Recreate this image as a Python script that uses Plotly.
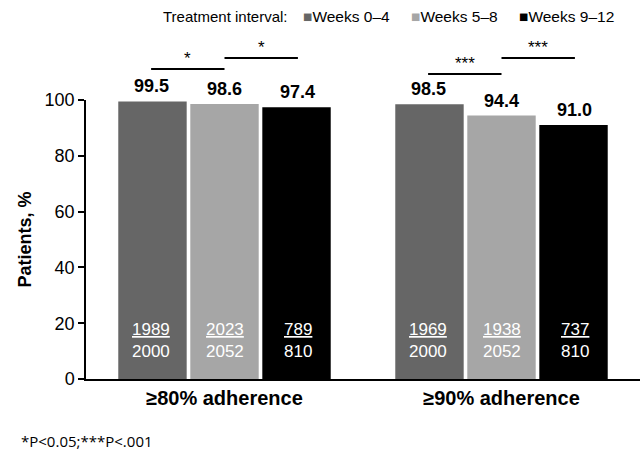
import plotly.graph_objects as go

categories = ["≥80% adherence", "≥90% adherence"]
series_names = ["Weeks 0–4", "Weeks 5–8", "Weeks 9–12"]
series_colors = ["#666666", "#a6a6a6", "#000000"]
values = {
    "Weeks 0–4": [99.5, 98.5],
    "Weeks 5–8": [98.6, 94.4],
    "Weeks 9–12": [97.4, 91.0],
}
numerators = {
    "Weeks 0–4": [1989, 1969],
    "Weeks 5–8": [2023, 1938],
    "Weeks 9–12": [789, 737],
}
denominators = {
    "Weeks 0–4": [2000, 2000],
    "Weeks 5–8": [2052, 2052],
    "Weeks 9–12": [810, 810],
}
# significance comparisons: (category index, bar i, bar j, label)
comparisons = [(0, 0, 1, "*"), (0, 1, 2, "*"), (1, 0, 1, "***"), (1, 1, 2, "***")]
y_ticks = [0, 20, 40, 60, 80, 100]

FONT = "Liberation Sans, Arial, sans-serif"
W, H = 643, 455
l, r, t, b = 86, 3, 100, 76
pw, ph = W - l - r, H - t - b
def px(xp):
    return (xp - l) / pw
def py(yp):
    return (H - b - yp) / ph

fig = go.Figure()
for name, col in zip(series_names, series_colors):
    fig.add_trace(go.Bar(
        x=[0, 1], y=values[name], name=name, marker_color=col,
        marker_line_width=0, showlegend=False,
    ))

bar_offset = 0.265
offsets = [-bar_offset, 0.0, bar_offset]

ann = []
for k, name in enumerate(series_names):
    for ci in range(len(categories)):
        x = ci + offsets[k]
        v = values[name][ci]
        ann.append(dict(x=x, y=v, xref="x", yref="y", text=f"<b>{v:.1f}</b>",
                        showarrow=False, yanchor="bottom", yshift=3,
                        font=dict(size=18, color="black", family=FONT)))
        ann.append(dict(x=x, y=17.6, xref="x", yref="y",
                        text=f"<u>{numerators[name][ci]}</u>", showarrow=False,
                        font=dict(size=17, color="white", family=FONT)))
        ann.append(dict(x=x, y=9.7, xref="x", yref="y",
                        text=f"{denominators[name][ci]}", showarrow=False,
                        font=dict(size=17, color="white", family=FONT)))

shapes = []
line_px = [69, 58, 74, 58]
for (ci, i, j, lab), lp in zip(comparisons, line_px):
    x0 = ci + offsets[i]
    x1 = ci + offsets[j]
    shapes.append(dict(type="line", xref="x", yref="paper", x0=x0, x1=x1, y0=py(lp), y1=py(lp),
                       line=dict(color="black", width=2)))
    ann.append(dict(x=(x0 + x1) / 2, y=py(lp), xref="x", yref="paper", text=lab,
                    showarrow=False, yanchor="bottom", yshift=-1,
                    font=dict(size=17, color="black", family=FONT)))

ann.append(dict(x=px(161), y=py(17), xref="paper", yref="paper", text="Treatment interval:",
                showarrow=False, xanchor="left", yanchor="middle",
                font=dict(size=15, color="black", family=FONT)))
leg_x = [301, 409, 517]
for name, col, lx in zip(series_names, series_colors, leg_x):
    ann.append(dict(x=px(lx), y=py(17), xref="paper", yref="paper",
                    text=f"<span style='color:{col}'>■</span>{name}", showarrow=False,
                    xanchor="left", yanchor="middle",
                    font=dict(size=15.5, color="black", family=FONT)))
ann.append(dict(x=px(19), y=py(441), xref="paper", yref="paper",
                text="*P&lt;0.05;***P&lt;.001", showarrow=False, xanchor="left",
                yanchor="middle", font=dict(size=15, color="black", family="Open Sans, sans-serif")))

fig.update_layout(
    width=W, height=H,
    margin=dict(l=l, r=r, t=t, b=b, autoexpand=False),
    paper_bgcolor="white", plot_bgcolor="white",
    bargap=0.22, bargroupgap=0.05, barmode="group",
    shapes=shapes, annotations=ann,
    xaxis=dict(range=[-0.5, 1.5], tickvals=[0, 1], ticktext=[f"<b>{c}</b>" for c in categories],
               showline=True, linecolor="black", linewidth=1.5, ticks="",
               tickfont=dict(size=20, color="black", family=FONT), showgrid=False, zeroline=False),
    yaxis=dict(range=[0, 100], tickvals=y_ticks, showline=True, linecolor="black", linewidth=1.5,
               ticks="outside", ticklen=6, tickwidth=1.5, tickcolor="black",
               tickfont=dict(size=18, color="black", family=FONT), showgrid=False, zeroline=False,
               title=dict(text="<b>Patients, %</b>", font=dict(size=18, color="black", family=FONT),
                          standoff=8)),
)

fig.write_html("out.html", config={"displayModeBar": False},
               post_script="document.body.style.margin='0';document.body.style.padding='0';")
